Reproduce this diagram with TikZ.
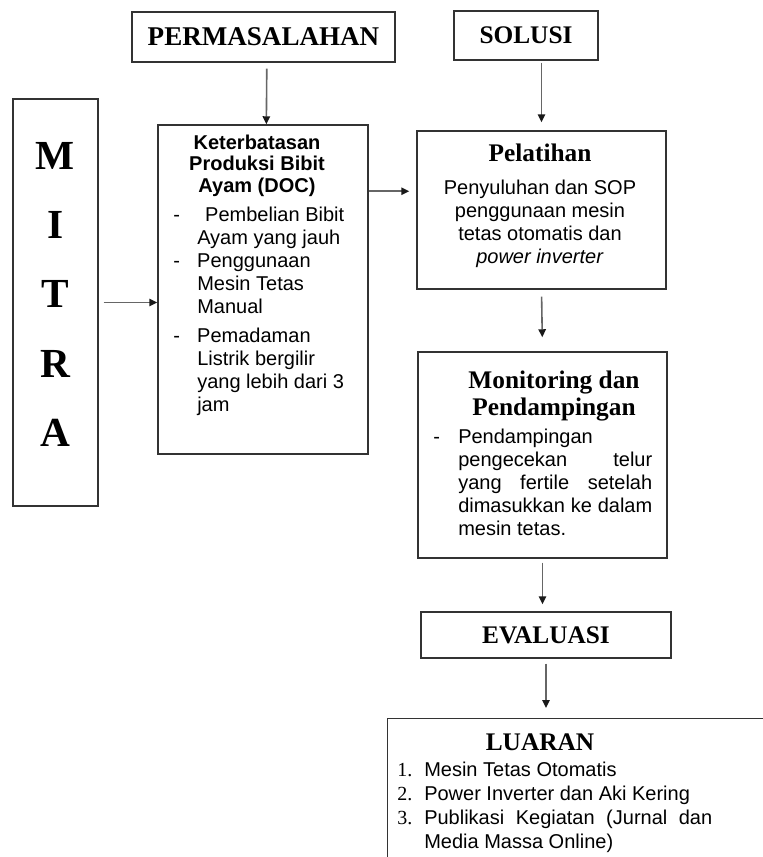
\documentclass[tikz,border=0pt]{standalone}
\usepackage{fontspec}
\setmainfont{Liberation Serif}
\setsansfont{Liberation Sans}
\usetikzlibrary{arrows.meta}

\tikzset{
  kotak/.style={draw=black!80, line width=1.1pt, inner sep=0pt},
  panah/.style={draw=black!60, line width=1.2pt, -{Triangle[length=6pt,width=5.5pt,color=black!90]}},
  judul/.style={font=\bfseries\fontsize{19}{20.5}\selectfont, inner sep=0pt},
  judulsans/.style={font=\sffamily\bfseries\fontsize{15}{16.2}\selectfont, inner sep=0pt},
  isi/.style={font=\sffamily\fontsize{15}{17.25}\selectfont, inner sep=0pt},
}

\begin{document}
\begin{tikzpicture}[x=0.75pt, y=-0.75pt]
        \useasboundingbox (0,0) rectangle (763,857);
        \clip (0,0) rectangle (763,857);

        % Kotak judul atas
        \node[kotak, judul, font=\bfseries\fontsize{20.3}{22}\selectfont, minimum width=197.25pt, minimum height=37.5pt] (permasalahan) at (263.5,37) {PERMASALAHAN};
        \node[kotak, judul, minimum width=108pt, minimum height=36.75pt] (solusi) at (526,35.5) {SOLUSI};

        % Mitra
        \node[kotak, minimum width=63.75pt, minimum height=305.25pt] (mitra) at (55.5,302.5) {};
        \node[font=\bfseries\fontsize{31}{52}\selectfont, anchor=base, inner sep=0pt] (mitrateks) at (55.5,169)
            {\begin{tabular}[t]{@{}c@{}}M\\ I\\ T\\ R\\ A\end{tabular}};

        % Permasalahan mitra
        \node[kotak, minimum width=157.5pt, minimum height=246.75pt] (masalah) at (263,289.5) {};
        \node[judulsans, anchor=base] (masalahjudul) at (257,149)
            {\begin{tabular}[t]{@{}c@{}}Keterbatasan\\ Produksi Bibit\\ Ayam (DOC)\end{tabular}};
        \node[isi, anchor=base west] (masalahisi) at (173,221)
            {\begin{tabular}[t]{@{}p{18pt}@{}l@{}}
             - & \hspace{6pt}Pembelian Bibit\\
               & Ayam yang jauh\\
             - & Penggunaan\\
               & Mesin Tetas\\
               & Manual\\[4.5pt]
             - & Pemadaman\\
               & Listrik bergilir\\
               & yang lebih dari 3\\
               & jam
             \end{tabular}};

        % Pelatihan
        \node[kotak, minimum width=186.75pt, minimum height=118.5pt] (pelatihan) at (541.5,210) {};
        \node[judul, anchor=base] (pelatihanjudul) at (540,161) {Pelatihan};
        \node[isi, anchor=base] (pelatihanisi) at (540,194)
            {\begin{tabular}[t]{@{}c@{}}Penyuluhan dan SOP\\ penggunaan mesin\\ tetas otomatis dan\\ \textit{power inverter}\end{tabular}};

        % Monitoring dan pendampingan
        \node[kotak, minimum width=186.75pt, minimum height=154.5pt] (monitoring) at (542.5,455) {};
        \node[judul, anchor=base] (monitoringjudul) at (554,388)
            {\begin{tabular}[t]{@{}c@{}}Monitoring dan\\ Pendampingan\end{tabular}};
        \node[isi, anchor=base west] (monitoringisi) at (433,443)
            {\begin{tabular}[t]{@{}p{18.75pt}@{}p{145.5pt}@{}}
             - & Pendampingan\\
               & pengecekan\hfill telur\\
               & yang\hfill fertile\hfill setelah\\
               & dimasukkan\hfill ke\hfill dalam\\
               & mesin tetas.
             \end{tabular}};

        % Evaluasi
        \node[kotak, judul, minimum width=187.5pt, minimum height=34.5pt] (evaluasi) at (546,635) {EVALUASI};

        % Luaran (terpotong di tepi gambar)
        \node[kotak, anchor=north west, minimum width=300pt, minimum height=150pt] (luaran) at (387,718) {};
        \node[judul, anchor=base] (luaranjudul) at (540,750) {LUARAN};
        \node[isi, font=\sffamily\fontsize{15}{18}\selectfont, anchor=base west] (luaranisi) at (397,776)
            {\begin{tabular}[t]{@{}p{20.25pt}@{}p{216pt}@{}}
             {\rmfamily 1.} & Mesin Tetas Otomatis\\
             {\rmfamily 2.} & Power Inverter dan Aki Kering\\
             {\rmfamily 3.} & Publikasi\hfill Kegiatan\hfill (Jurnal\hfill dan\\
                            & Media Massa Online)
             \end{tabular}};

        % Panah
        \draw[panah, shorten <=4.5pt] ([xshift=2.5pt]permasalahan.south) -- ([xshift=2.5pt]masalah.north);
        \draw[panah, shorten <=1.5pt, shorten >=6pt] (pelatihan.north |- solusi.south) -- (pelatihan.north);
        \draw[panah, shorten <=3.75pt] (mitra.east) -- (mitra.east -| masalah.west);
        \draw[panah, shorten >=5.25pt] ([yshift=-50.25pt]masalah.north east) -- ([yshift=-45.75pt]pelatihan.north west);
        \draw[panah, shorten <=5.25pt, shorten >=10.5pt] (pelatihan.south) -- (monitoring.north);
        \draw[panah, shorten <=3pt, shorten >=5.25pt] (monitoring.south) -- (monitoring.south |- evaluasi.north);
        \draw[panah, shorten <=3.75pt, shorten >=7.5pt] (evaluasi.south) -- (evaluasi.south |- luaran.north);
    \end{tikzpicture}
\end{document}
